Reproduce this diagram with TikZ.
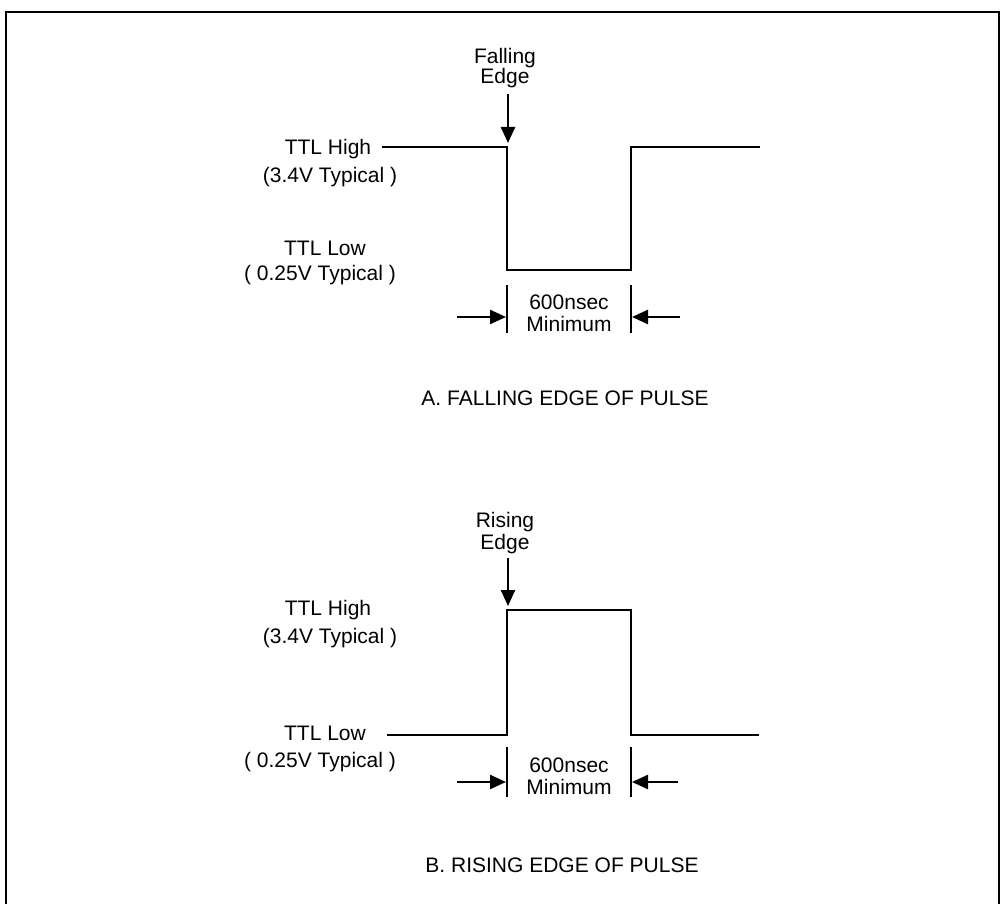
\documentclass[tikz,border=0pt]{standalone}
\usepackage{fontspec}
\setmainfont{Liberation Sans}
\usetikzlibrary{arrows.meta}
\begin{document}
\begin{tikzpicture}[x=1pt,y=-1pt,
  lbl/.style={font=\fontsize{21}{22}\selectfont, inner sep=0pt, anchor=base},
  wave/.style={line width=2.8pt, line join=miter},
  tickline/.style={line width=2.6pt},
  arr/.style={line width=2.4pt, -{Triangle[length=16pt,width=14pt]}},
  framestyle/.style={line width=1.8pt}]
\useasboundingbox (0,0) rectangle (1004,904);
\draw[framestyle] (6,904) -- (6,12) -- (999,12) -- (999,904);

% ---------- A. falling edge ----------
\node[lbl] (fallA) at (505,63.5) {Falling};
\node[lbl] (fallB) at (505,83.5) {Edge};
\coordinate (fs) at (508,94);
\coordinate (ft) at (508,143);
\draw[arr] (fs) -- (ft);

\coordinate (a0) at (382,147);
\coordinate (a1) at (507,147);
\coordinate (a2) at (507,270);
\coordinate (a3) at (631,270);
\coordinate (a4) at (631,147);
\coordinate (a5) at (760,147);
\draw[wave] (a0) -- (a1) -- (a2) -- (a3) -- (a4) -- (a5);

\node[lbl] (ahigh) at (328,154.5) {TTL High};
\node[lbl] (ahighv) at (330,182.5) {(3.4V Typical )};
\node[lbl] (alow) at (325,255.5) {TTL Low};
\node[lbl] (alowv) at (320,280.5) {( 0.25V Typical )};

\coordinate (at1) at (507,285);
\coordinate (at2) at (507,333);
\coordinate (at3) at (631,285);
\coordinate (at4) at (631,333);
\draw[tickline] (at1) -- (at2);
\draw[tickline] (at3) -- (at4);
\coordinate (al0) at (457,317);
\coordinate (al1) at (506,317);
\coordinate (ar0) at (680,317);
\coordinate (ar1) at (632,317);
\draw[arr] (al0) -- (al1);
\draw[arr] (ar0) -- (ar1);
\node[lbl] (adur) at (569,309.5) {600nsec};
\node[lbl] (amin) at (569,331.5) {Minimum};
\node[lbl] (acap) at (565,405.5) {A. FALLING EDGE OF PULSE};

% ---------- B. rising edge ----------
\node[lbl] (riseA) at (505,527.5) {Rising};
\node[lbl] (riseB) at (505,549.5) {Edge};
\coordinate (rs) at (508,558);
\coordinate (rt) at (508,606);
\draw[arr] (rs) -- (rt);

\coordinate (b0) at (387,735);
\coordinate (b1) at (507,735);
\coordinate (b2) at (507,610);
\coordinate (b3) at (631,610);
\coordinate (b4) at (631,735);
\coordinate (b5) at (759,735);
\draw[wave] (b0) -- (b1) -- (b2) -- (b3) -- (b4) -- (b5);

\node[lbl] (bhigh) at (328,615.5) {TTL High};
\node[lbl] (bhighv) at (330,643.5) {(3.4V Typical )};
\node[lbl] (blow) at (325,740.5) {TTL Low};
\node[lbl] (blowv) at (320,767.5) {( 0.25V Typical )};

\coordinate (bt1) at (507,747);
\coordinate (bt2) at (507,797);
\coordinate (bt3) at (631,747);
\coordinate (bt4) at (631,797);
\draw[tickline] (bt1) -- (bt2);
\draw[tickline] (bt3) -- (bt4);
\coordinate (bl0) at (457,782);
\coordinate (bl1) at (506,782);
\coordinate (br0) at (678,782);
\coordinate (br1) at (632,782);
\draw[arr] (bl0) -- (bl1);
\draw[arr] (br0) -- (br1);
\node[lbl] (bdur) at (569,772.5) {600nsec};
\node[lbl] (bmin) at (569,794.5) {Minimum};
\node[lbl] (bcap) at (562,872.5) {B. RISING EDGE OF PULSE};
\end{tikzpicture}
\end{document}
